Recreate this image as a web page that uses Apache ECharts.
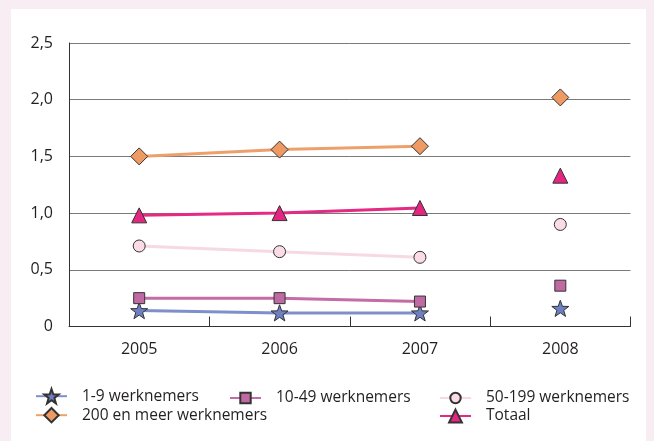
<!DOCTYPE html>
<html>
<head>
<meta charset="utf-8">
<script src="https://cdn.jsdelivr.net/npm/echarts@6/dist/echarts.min.js"></script>
<style>
html,body{margin:0;padding:0;background:#f8edf3;}
#c{width:654px;height:441px;}
</style>
</head>
<body>
<div id="c"></div>
<script>
const categories = ['2005', '2006', '2007', '2008'];
const names = ['1-9 werknemers', '10-49 werknemers', '50-199 werknemers', '200 en meer werknemers', 'Totaal'];
const v1_9 = [0.14, 0.12, 0.12, 0.16];
const v10_49 = [0.25, 0.25, 0.22, 0.36];
const v50_199 = [0.71, 0.66, 0.61, 0.90];
const v200 = [1.50, 1.56, 1.59, 2.02];
const vTotaal = [0.98, 1.00, 1.045, 1.33];
const yTicks = [0, 0.5, 1.0, 1.5, 2.0, 2.5];

const STAR = 'path://M50 0 L61.76 33.82 L97.55 34.55 L69.02 56.18 L79.39 90.45 L50 70 L20.61 90.45 L30.98 56.18 L2.45 34.55 L38.24 33.82 Z';
const FONT = '"Open Sans", "Noto Sans", sans-serif';

const styles = [
  {name: names[0], data: v1_9, symbol: STAR, size: 17, line: '#7f8fcc', fill: '#6e7fc2', legend: {left: 35, top: 388, h: 18}},
  {name: names[1], data: v10_49, symbol: 'rect', size: 11, line: '#c46ca6', fill: '#c06aa3', legend: {left: 229, top: 390, h: 13}},
  {name: names[2], data: v50_199, symbol: 'circle', size: 12, line: '#f7d9e5', fill: '#fadbe6', legend: {left: 439, top: 390, h: 13}},
  {name: names[3], data: v200, symbol: 'diamond', size: 17, line: '#eea06c', fill: '#ef9a63', legend: {left: 35, top: 407, h: 18}},
  {name: names[4], data: vTotaal, symbol: 'triangle', size: 15, line: '#e42a83', fill: '#e3267f', legend: {left: 439, top: 408, h: 16}}
];

const series = [];
const legends = [];
styles.forEach(s => {
  const common = {
    name: s.name,
    type: 'line',
    symbol: s.symbol,
    symbolSize: s.size,
    symbolKeepAspect: true,
    showSymbol: true,
    showAllSymbol: true,
    lineStyle: {color: s.line, width: 3},
    itemStyle: {color: s.fill, borderColor: '#333', borderWidth: 1},
    emphasis: {disabled: true},
    animation: false,
    z: 3
  };
  series.push(Object.assign({}, common, {
    data: s.data.map((v, i) => i < 3 ? v : null),
    connectNulls: false
  }));
  series.push(Object.assign({}, common, {
    data: s.data.map((v, i) => i === 3 ? v : null),
    connectNulls: false
  }));
  legends.push({
    data: [s.name],
    left: s.legend.left,
    top: s.legend.top,
    itemWidth: 31,
    itemHeight: s.legend.h,
    itemGap: 0,
    padding: 0,
    selectedMode: false,
    formatter: n => '{g|}{t|' + n + '}',
    textStyle: {
      fontFamily: FONT, fontSize: 15.5, color: '#231f20',
      rich: {
        g: {width: 10},
        t: {fontFamily: FONT, fontSize: 15.5, color: '#231f20'}
      }
    }
  });
});

const chart = echarts.init(document.getElementById('c'));
chart.setOption({
  backgroundColor: '#f8edf3',
  animation: false,
  graphic: [{
    type: 'rect', z: -10, silent: true,
    shape: {x: 11, y: 9, width: 635, height: 440},
    style: {fill: '#ffffff'}
  }],
  legend: legends,
  grid: {left: 69, right: 23.5, top: 43, bottom: 114.5, containLabel: false},
  xAxis: {
    type: 'category',
    data: categories,
    boundaryGap: true,
    axisLine: {lineStyle: {color: '#333', width: 1}},
    axisTick: {show: true, inside: true, length: 10, lineStyle: {color: '#333'}},
    axisLabel: {fontFamily: FONT, fontSize: 16, color: '#231f20', margin: 15},
    splitLine: {show: false}
  },
  yAxis: {
    type: 'value',
    min: yTicks[0],
    max: yTicks[yTicks.length - 1],
    interval: 0.5,
    axisLine: {show: true, lineStyle: {color: '#333', width: 1}},
    axisTick: {show: false},
    axisLabel: {
      fontFamily: FONT, fontSize: 16, color: '#231f20', margin: 16,
      formatter: v => v === 0 ? '0' : v.toFixed(1).replace('.', ',')
    },
    splitLine: {show: true, lineStyle: {color: '#7a7a7a', width: 1}}
  },
  series: series
});
</script>
</body>
</html>
